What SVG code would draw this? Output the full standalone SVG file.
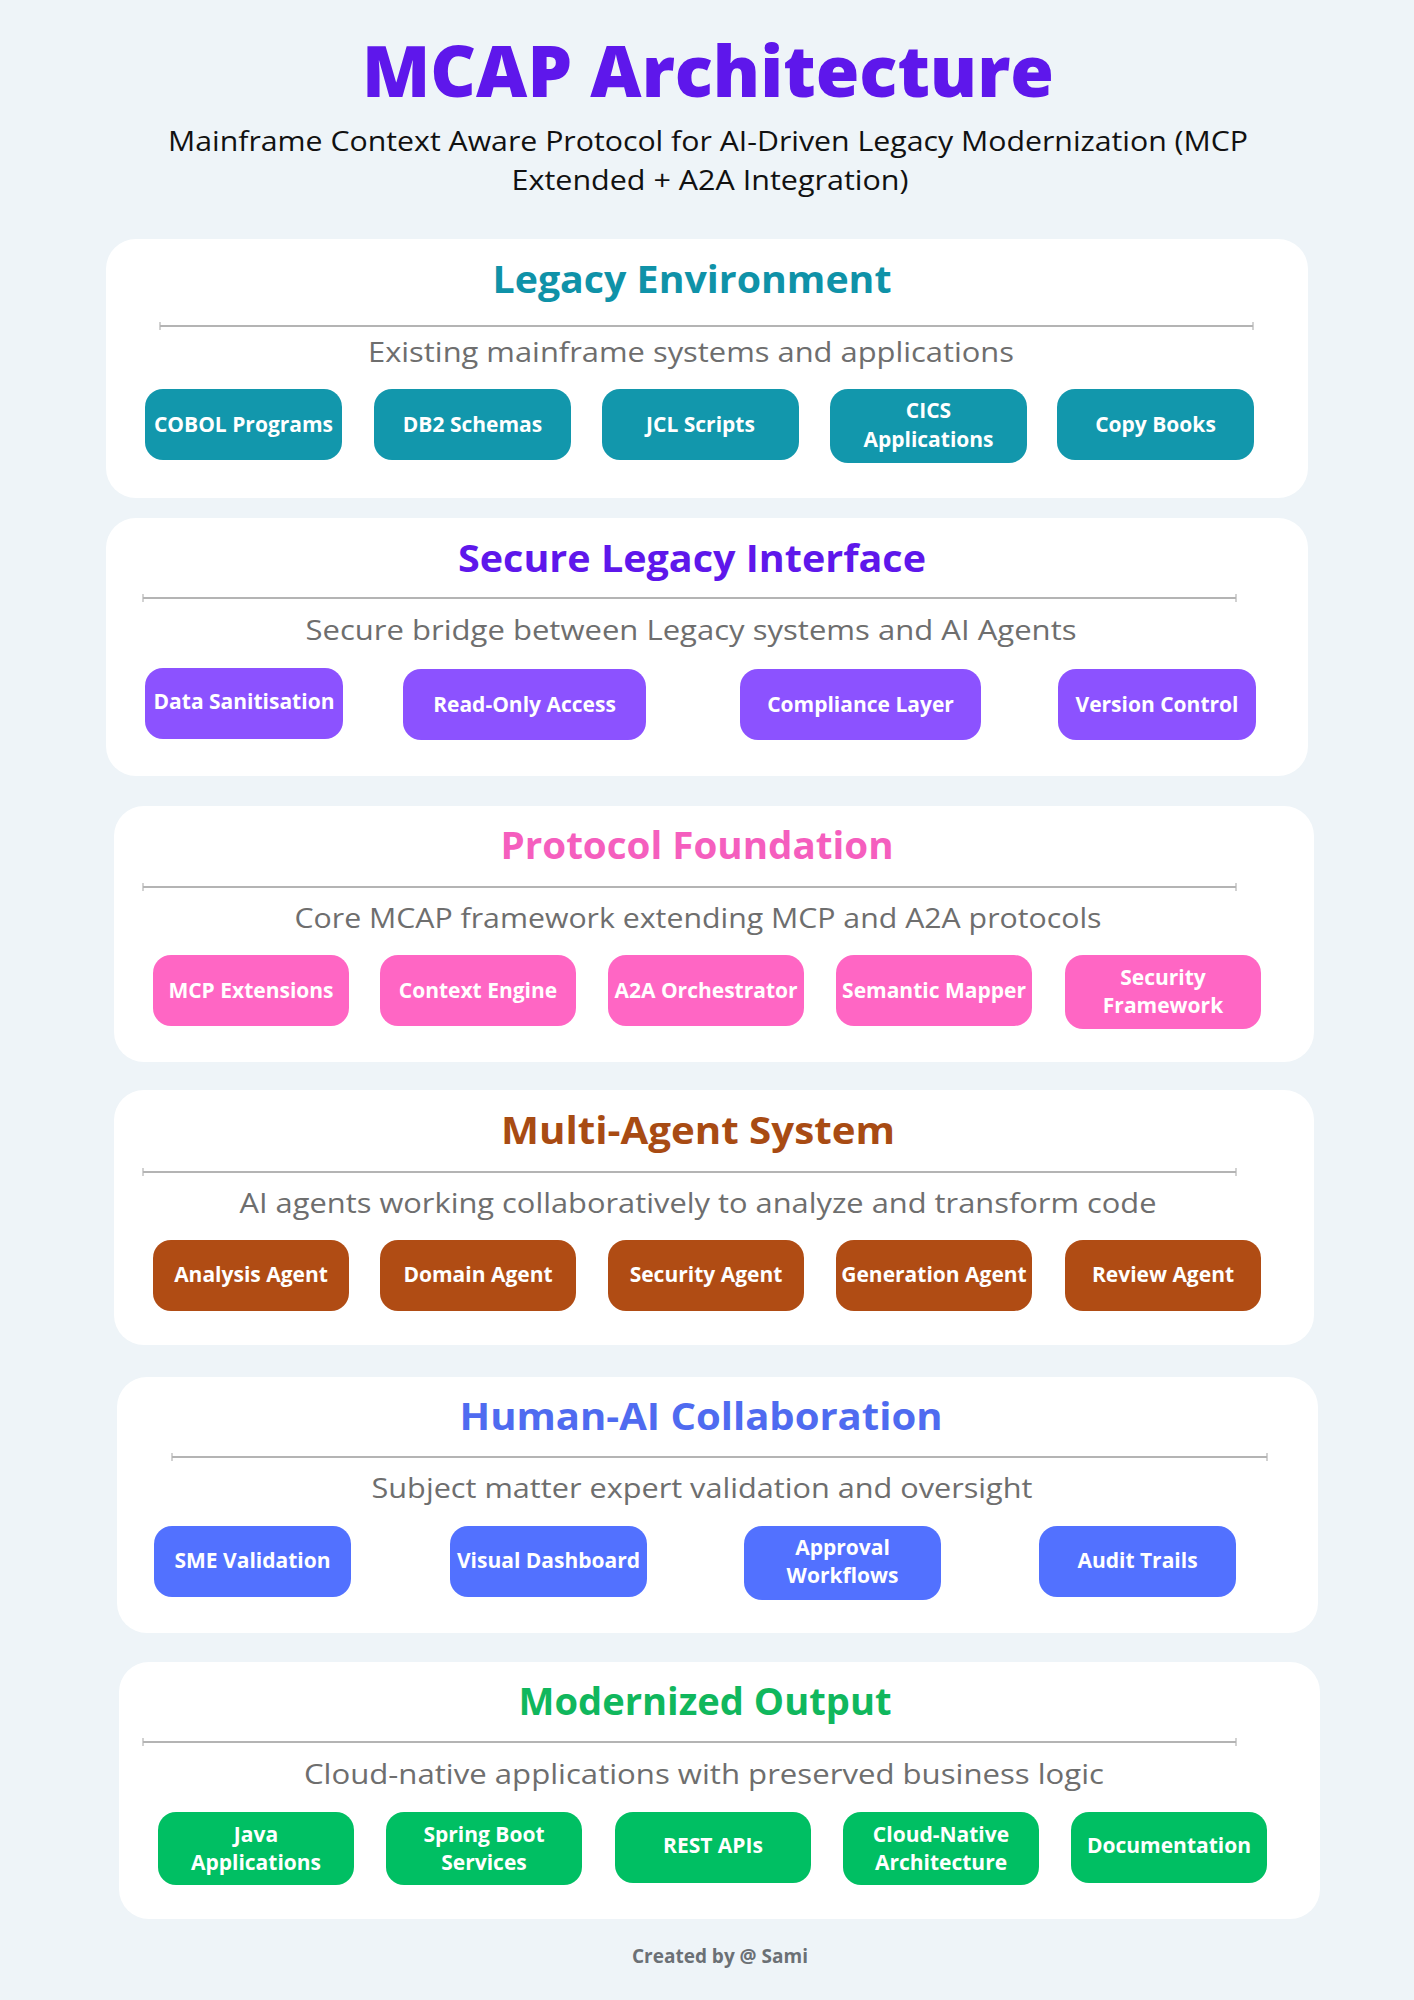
<svg xmlns="http://www.w3.org/2000/svg" width="1414" height="2000" viewBox="0 0 1414 2000">
  <style>
    .page { fill: #EEF4F8; }
    .panel { fill: #FFFFFF; }
    .title { font-family: "Open Sans", "Liberation Sans", sans-serif; font-weight: 700; font-size: 37px; text-anchor: middle; }
    .desc { font-family: "Open Sans", "Liberation Sans", sans-serif; font-weight: 400; font-size: 27px; fill: #6E6E6E; text-anchor: middle; }
    .rule { stroke: #B4B4B4; stroke-width: 2; }
    .tick { stroke: #B4B4B4; stroke-width: 1.2; }
    .chip-text { font-family: "Open Sans", "Liberation Sans", sans-serif; font-weight: 700; font-size: 21px; fill: #FFFFFF; text-anchor: middle; }
    .legacy rect.chip { fill: #1297AC; }
    .secure rect.chip { fill: #8C52FF; }
    .protocol rect.chip { fill: #FF66C4; }
    .agents rect.chip { fill: #B04C14; }
    .human rect.chip { fill: #5271FF; }
    .output rect.chip { fill: #00BF63; }
  </style>

  <rect class="page" x="0" y="0" width="1414" height="2000"/>

  <!-- Heading -->
  <g id="heading">
    <text x="708" y="97" font-family="'Open Sans', 'Liberation Sans', sans-serif" font-weight="800" font-size="70" fill="#5E17EB" text-anchor="middle" textLength="692" lengthAdjust="spacingAndGlyphs">MCAP Architecture</text>
    <text x="708" y="151" font-family="'Open Sans', 'Liberation Sans', sans-serif" font-size="27" fill="#111111" text-anchor="middle" textLength="1080" lengthAdjust="spacingAndGlyphs">Mainframe Context Aware Protocol for AI-Driven Legacy Modernization (MCP</text>
    <text x="710" y="190" font-family="'Open Sans', 'Liberation Sans', sans-serif" font-size="27" fill="#111111" text-anchor="middle" textLength="397" lengthAdjust="spacingAndGlyphs">Extended + A2A Integration)</text>
  </g>

  <!-- Layer 1: Legacy Environment -->
  <g id="legacy-environment" class="legacy">
    <rect class="panel" x="106" y="239" width="1202" height="259" rx="30"/>
    <text class="title" x="692" y="293" fill="#0F92A8" textLength="399" lengthAdjust="spacingAndGlyphs">Legacy Environment</text>
    <line class="rule" x1="160" y1="326" x2="1253" y2="326"/>
    <line class="tick" x1="160" y1="322" x2="160" y2="330"/>
    <line class="tick" x1="1253" y1="322" x2="1253" y2="330"/>
    <text class="desc" x="691" y="362" textLength="646" lengthAdjust="spacingAndGlyphs">Existing mainframe systems and applications</text>
    <g id="cobol-programs"><rect class="chip" x="145" y="389" width="197" height="71" rx="18"/><text class="chip-text" x="243.5" y="432">COBOL Programs</text></g>
    <g id="db2-schemas"><rect class="chip" x="374" y="389" width="197" height="71" rx="18"/><text class="chip-text" x="472.5" y="432">DB2 Schemas</text></g>
    <g id="jcl-scripts"><rect class="chip" x="602" y="389" width="197" height="71" rx="18"/><text class="chip-text" x="700.5" y="432">JCL Scripts</text></g>
    <g id="cics-applications"><rect class="chip" x="830" y="389" width="197" height="74" rx="18"/><text class="chip-text" x="928.5" y="418">CICS</text><text class="chip-text" x="928.5" y="447">Applications</text></g>
    <g id="copy-books"><rect class="chip" x="1057" y="389" width="197" height="71" rx="18"/><text class="chip-text" x="1155.5" y="432">Copy Books</text></g>
  </g>

  <!-- Layer 2: Secure Legacy Interface -->
  <g id="secure-legacy-interface" class="secure">
    <rect class="panel" x="106" y="518" width="1202" height="258" rx="30"/>
    <text class="title" x="692" y="572" fill="#5E17EB" textLength="468" lengthAdjust="spacingAndGlyphs">Secure Legacy Interface</text>
    <line class="rule" x1="143" y1="598" x2="1236" y2="598"/>
    <line class="tick" x1="143" y1="594" x2="143" y2="602"/>
    <line class="tick" x1="1236" y1="594" x2="1236" y2="602"/>
    <text class="desc" x="691" y="640" textLength="771" lengthAdjust="spacingAndGlyphs">Secure bridge between Legacy systems and AI Agents</text>
    <g id="data-sanitisation"><rect class="chip" x="145" y="668" width="198" height="71" rx="18"/><text class="chip-text" x="244" y="709">Data Sanitisation</text></g>
    <g id="read-only-access"><rect class="chip" x="403" y="669" width="243" height="71" rx="18"/><text class="chip-text" x="524.5" y="712">Read-Only Access</text></g>
    <g id="compliance-layer"><rect class="chip" x="740" y="669" width="241" height="71" rx="18"/><text class="chip-text" x="860.5" y="712">Compliance Layer</text></g>
    <g id="version-control"><rect class="chip" x="1058" y="669" width="198" height="71" rx="18"/><text class="chip-text" x="1157" y="712">Version Control</text></g>
  </g>

  <!-- Layer 3: Protocol Foundation -->
  <g id="protocol-foundation" class="protocol">
    <rect class="panel" x="114" y="806" width="1200" height="256" rx="30"/>
    <text class="title" x="697" y="859" fill="#F55EBE" textLength="393" lengthAdjust="spacingAndGlyphs">Protocol Foundation</text>
    <line class="rule" x1="143" y1="887" x2="1236" y2="887"/>
    <line class="tick" x1="143" y1="883" x2="143" y2="891"/>
    <line class="tick" x1="1236" y1="883" x2="1236" y2="891"/>
    <text class="desc" x="698" y="928" textLength="807" lengthAdjust="spacingAndGlyphs">Core MCAP framework extending MCP and A2A protocols</text>
    <g id="mcp-extensions"><rect class="chip" x="153" y="955" width="196" height="71" rx="18"/><text class="chip-text" x="251" y="998">MCP Extensions</text></g>
    <g id="context-engine"><rect class="chip" x="380" y="955" width="196" height="71" rx="18"/><text class="chip-text" x="478" y="998">Context Engine</text></g>
    <g id="a2a-orchestrator"><rect class="chip" x="608" y="955" width="196" height="71" rx="18"/><text class="chip-text" x="706" y="998">A2A Orchestrator</text></g>
    <g id="semantic-mapper"><rect class="chip" x="836" y="955" width="196" height="71" rx="18"/><text class="chip-text" x="934" y="998">Semantic Mapper</text></g>
    <g id="security-framework"><rect class="chip" x="1065" y="955" width="196" height="74" rx="18"/><text class="chip-text" x="1163" y="985">Security</text><text class="chip-text" x="1163" y="1013">Framework</text></g>
  </g>

  <!-- Layer 4: Multi-Agent System -->
  <g id="multi-agent-system" class="agents">
    <rect class="panel" x="114" y="1090" width="1200" height="255" rx="30"/>
    <text class="title" x="698" y="1144" fill="#A84B13" textLength="394" lengthAdjust="spacingAndGlyphs">Multi-Agent System</text>
    <line class="rule" x1="143" y1="1172" x2="1236" y2="1172"/>
    <line class="tick" x1="143" y1="1168" x2="143" y2="1176"/>
    <line class="tick" x1="1236" y1="1168" x2="1236" y2="1176"/>
    <text class="desc" x="698" y="1213" textLength="917" lengthAdjust="spacingAndGlyphs">AI agents working collaboratively to analyze and transform code</text>
    <g id="analysis-agent"><rect class="chip" x="153" y="1240" width="196" height="71" rx="18"/><text class="chip-text" x="251" y="1282">Analysis Agent</text></g>
    <g id="domain-agent"><rect class="chip" x="380" y="1240" width="196" height="71" rx="18"/><text class="chip-text" x="478" y="1282">Domain Agent</text></g>
    <g id="security-agent"><rect class="chip" x="608" y="1240" width="196" height="71" rx="18"/><text class="chip-text" x="706" y="1282">Security Agent</text></g>
    <g id="generation-agent"><rect class="chip" x="836" y="1240" width="196" height="71" rx="18"/><text class="chip-text" x="934" y="1282">Generation Agent</text></g>
    <g id="review-agent"><rect class="chip" x="1065" y="1240" width="196" height="71" rx="18"/><text class="chip-text" x="1163" y="1282">Review Agent</text></g>
  </g>

  <!-- Layer 5: Human-AI Collaboration -->
  <g id="human-ai-collaboration" class="human">
    <rect class="panel" x="117" y="1377" width="1201" height="256" rx="30"/>
    <text class="title" x="701" y="1430" fill="#4F6BF0" textLength="483" lengthAdjust="spacingAndGlyphs">Human-AI Collaboration</text>
    <line class="rule" x1="172" y1="1457" x2="1267" y2="1457"/>
    <line class="tick" x1="172" y1="1453" x2="172" y2="1461"/>
    <line class="tick" x1="1267" y1="1453" x2="1267" y2="1461"/>
    <text class="desc" x="702" y="1498" textLength="661" lengthAdjust="spacingAndGlyphs">Subject matter expert validation and oversight</text>
    <g id="sme-validation"><rect class="chip" x="154" y="1526" width="197" height="71" rx="18"/><text class="chip-text" x="252.5" y="1568">SME Validation</text></g>
    <g id="visual-dashboard"><rect class="chip" x="450" y="1526" width="197" height="71" rx="18"/><text class="chip-text" x="548.5" y="1568">Visual Dashboard</text></g>
    <g id="approval-workflows"><rect class="chip" x="744" y="1526" width="197" height="74" rx="18"/><text class="chip-text" x="842.5" y="1555">Approval</text><text class="chip-text" x="842.5" y="1583">Workflows</text></g>
    <g id="audit-trails"><rect class="chip" x="1039" y="1526" width="197" height="71" rx="18"/><text class="chip-text" x="1137.5" y="1568">Audit Trails</text></g>
  </g>

  <!-- Layer 6: Modernized Output -->
  <g id="modernized-output" class="output">
    <rect class="panel" x="119" y="1662" width="1201" height="257" rx="30"/>
    <text class="title" x="705" y="1715" fill="#10B75D" textLength="373" lengthAdjust="spacingAndGlyphs">Modernized Output</text>
    <line class="rule" x1="143" y1="1742" x2="1236" y2="1742"/>
    <line class="tick" x1="143" y1="1738" x2="143" y2="1746"/>
    <line class="tick" x1="1236" y1="1738" x2="1236" y2="1746"/>
    <text class="desc" x="704" y="1784" textLength="800" lengthAdjust="spacingAndGlyphs">Cloud-native applications with preserved business logic</text>
    <g id="java-applications"><rect class="chip" x="158" y="1812" width="196" height="73" rx="18"/><text class="chip-text" x="256" y="1842">Java</text><text class="chip-text" x="256" y="1870">Applications</text></g>
    <g id="spring-boot-services"><rect class="chip" x="386" y="1812" width="196" height="73" rx="18"/><text class="chip-text" x="484" y="1842">Spring Boot</text><text class="chip-text" x="484" y="1870">Services</text></g>
    <g id="rest-apis"><rect class="chip" x="615" y="1812" width="196" height="71" rx="18"/><text class="chip-text" x="713" y="1853">REST APIs</text></g>
    <g id="cloud-native-architecture"><rect class="chip" x="843" y="1812" width="196" height="73" rx="18"/><text class="chip-text" x="941" y="1842">Cloud-Native</text><text class="chip-text" x="941" y="1870">Architecture</text></g>
    <g id="documentation"><rect class="chip" x="1071" y="1812" width="196" height="71" rx="18"/><text class="chip-text" x="1169" y="1853">Documentation</text></g>
  </g>

  <!-- Credit line -->
  <g id="credit">
    <text x="720" y="1963" font-family="'Open Sans', 'Liberation Sans', sans-serif" font-weight="700" font-size="19" fill="#6B7075" text-anchor="middle">Created by @ Sami</text>
  </g>
</svg>
